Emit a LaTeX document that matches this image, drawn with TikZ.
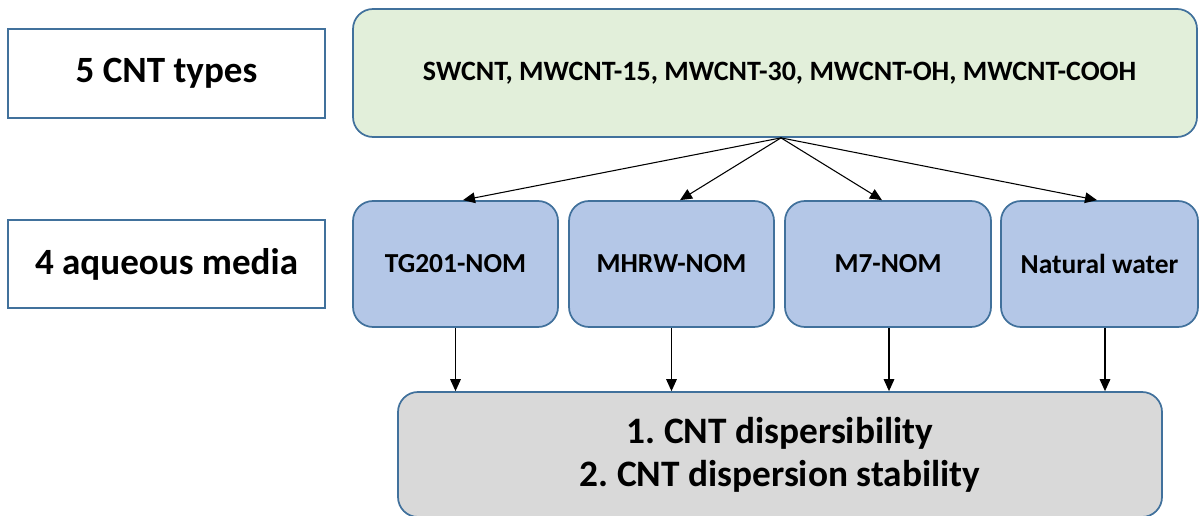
\documentclass[tikz,border=0pt]{standalone}
\usepackage{fontspec}
\setmainfont{Carlito}
\usetikzlibrary{arrows.meta,calc}
\definecolor{bord}{HTML}{41719C}
\definecolor{greenfill}{HTML}{E2EFDA}
\definecolor{bluefill}{HTML}{B4C7E7}
\definecolor{grayfill}{HTML}{D9D9D9}
\tikzset{
  labelbox/.style={draw=bord, line width=1.4pt, fill=white, inner sep=0pt,
    font=\fontsize{27.8}{32}\selectfont\bfseries},
  roundbox/.style={draw=bord, line width=1.3pt, rounded corners=15pt, inner sep=0pt},
  greenbox/.style={roundbox, fill=greenfill, font=\fontsize{21}{25}\selectfont\bfseries},
  bluebox/.style={roundbox, fill=bluefill, font=\fontsize{20.6}{24}\selectfont\bfseries},
  graybox/.style={roundbox, fill=grayfill, align=center, font=\fontsize{28}{32.3}\selectfont\bfseries},
  arr/.style={draw=black, line width=0.8pt, -{Triangle[length=9pt,width=8pt]}},
}
\begin{document}
\begin{tikzpicture}[x=0.75pt,y=-0.75pt]
\useasboundingbox (0,0) rectangle (1199,516);
% left labels
\node[labelbox, minimum width=317*0.75pt, minimum height=89*0.75pt] (types) at (166.5,73.5) {5 CNT types};
\node[labelbox, minimum width=317*0.75pt, minimum height=88*0.75pt] (media) at (166.5,264) {4 aqueous media};
% top green box
\node[greenbox, minimum width=844*0.75pt, minimum height=128*0.75pt] (cnt) at (775,73)
  {\hspace*{7pt}SWCNT, MWCNT-15, MWCNT-30, MWCNT-OH, MWCNT-COOH};
% blue media boxes
\node[bluebox, minimum width=205*0.75pt, minimum height=126*0.75pt] (tg) at (455.5,264) {TG201-NOM};
\node[bluebox, minimum width=205*0.75pt, minimum height=126*0.75pt] (mh) at (671.5,264) {MHRW-NOM};
\node[bluebox, minimum width=206*0.75pt, minimum height=126*0.75pt] (m7) at (888,264) {M7-NOM};
\node[bluebox, minimum width=197*0.75pt, minimum height=126*0.75pt] (nw) at (1099.5,264) {Natural water};
% bottom gray box
\node[graybox, minimum width=764*0.75pt, minimum height=125*0.75pt] (res) at (780,454.5)
  {1.\ CNT dispersibility\\2.\ CNT dispersion stability};
% fan-out arrows
\coordinate (fan) at ($(cnt.south)+(6,0)$);
\draw[arr] (fan) -- ($(tg.north)+(7.5,0)$);
\draw[arr] (fan) -- ($(mh.north)+(8.5,0)$);
\draw[arr] (fan) -- ($(m7.north)+(-6,0)$);
\draw[arr] (fan) -- ($(nw.north)+(-2.5,0)$);
% vertical arrows
\draw[arr] (tg.south) -- (tg.south |- res.north);
\draw[arr] (mh.south) -- (mh.south |- res.north);
\draw[arr] ($(m7.south)+(1,0)$) -- ($(m7.south |- res.north)+(1,0)$);
\draw[arr] ($(nw.south)+(5.5,0)$) -- ($(nw.south |- res.north)+(5.5,0)$);
\end{tikzpicture}
\end{document}
